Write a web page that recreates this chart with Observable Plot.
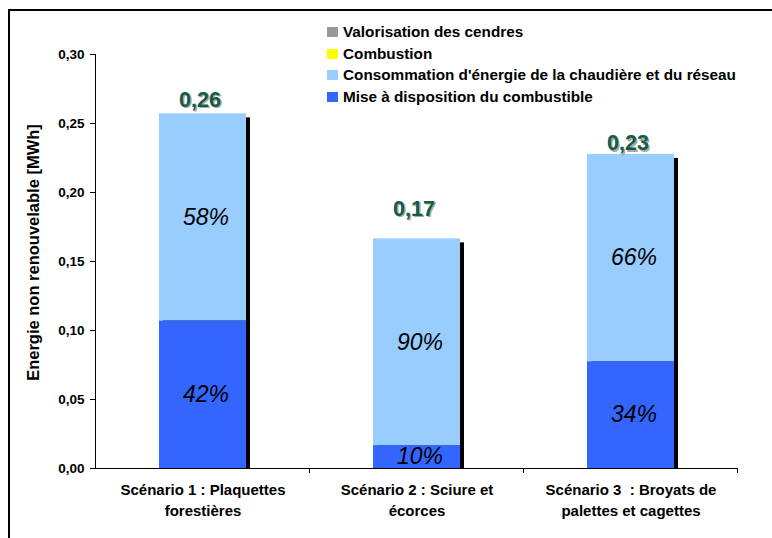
<!DOCTYPE html>
<html><head><meta charset="utf-8">
<script src="https://cdn.jsdelivr.net/npm/d3@7"></script>
<script src="https://cdn.jsdelivr.net/npm/@observablehq/plot@0.6"></script>
<style>
html,body{margin:0;padding:0;background:#fff;overflow:hidden;}
#wrap{position:relative;width:772px;height:538px;overflow:hidden;font-family:"Liberation Sans",Arial,sans-serif;}
#frame{position:absolute;left:8px;top:9px;width:900px;height:700px;border:2px solid #000;box-sizing:border-box;}
#chart{position:absolute;left:0;top:0;}
#legend{position:absolute;left:327px;top:21px;font-weight:bold;font-size:15.3px;color:#000;}
.item{display:flex;align-items:center;height:21.7px;white-space:nowrap;}
.sw{width:11px;height:10px;margin-right:5px;flex:none;}
</style></head>
<body><div id="wrap"><div id="frame"></div><div id="chart"></div><div id="legend"></div></div>
<script>
// ---- data ----
const scenarios = ["Scénario 1", "Scénario 2", "Scénario 3"];
const tickLabels = ["Scénario 1 : Plaquettes\nforestières", "Scénario 2 : Sciure et\nécorces", "Scénario 3  : Broyats de\npalettes et cagettes"];
const miseADisposition = [0.107, 0.0166, 0.0774];
const consommation = [0.150, 0.1498, 0.1502];
const combustion = [0, 0, 0];
const valorisation = [0, 0, 0];
const seriesNames = ["Mise à disposition du combustible", "Consommation d'énergie de la chaudière et du réseau", "Combustion", "Valorisation des cendres"];
const seriesColors = ["#3366FF", "#99CCFF", "#FFFF00", "#999999"];
const yTicks = [0, 0.05, 0.10, 0.15, 0.20, 0.25, 0.30];
const yTitle = "Energie non renouvelable [MWh]";

// ---- derived table ----
const seriesValues = [miseADisposition, consommation, combustion, valorisation];
const rows = [];
const totals = [];
scenarios.forEach((s, i) => {
  let acc = 0;
  const total = seriesValues.reduce((a, arr) => a + arr[i], 0);
  seriesValues.forEach((arr, k) => {
    const v = arr[i];
    rows.push({scenario: s, series: seriesNames[k], value: v, y1: acc, y2: acc + v, pct: Math.round(v / total * 100) + "%"});
    acc += v;
  });
  totals.push({scenario: s, i, total, label: total.toFixed(2).replace(".", ",")});
});
const visible = rows.filter(d => d.value > 0.001);
const labelDy = [-14, -30, -11];
const fmt = d => d.toFixed(2).replace(".", ",");
const font = "Liberation Sans, Arial, sans-serif";

const totalMarks = [];
totals.forEach((t, i) => {
  totalMarks.push(Plot.text([t], {x: "scenario", y: "total", text: "label", dx: -1.5, dy: labelDy[i] + 1.5, fill: "#a8a8a8", fontSize: 21.5, fontWeight: "bold"}));
  totalMarks.push(Plot.text([t], {x: "scenario", y: "total", text: "label", dx: -3, dy: labelDy[i], fill: "#155c44", fontSize: 21.5, fontWeight: "bold"}));
});

const plot = Plot.plot({
  width: 772, height: 538,
  marginLeft: 95, marginRight: 34, marginTop: 54, marginBottom: 70,
  style: {fontFamily: font, background: "transparent", overflow: "visible"},
  x: {domain: scenarios, paddingInner: 0.595, paddingOuter: 0.2975, label: null},
  y: {domain: [0, 0.30], label: null},
  color: {domain: seriesNames, range: seriesColors},
  marks: [
    Plot.rectY(totals, {x: "scenario", y1: 0, y2: "total", fill: "black", dx: 4, insetTop: 4}),
    Plot.rectY(visible, {x: "scenario", y1: "y1", y2: "y2", fill: "series"}),
    Plot.text(visible, {x: "scenario", y: d => (d.y1 + d.y2) / 2, text: "pct", fontStyle: "italic", fontSize: 23, dx: 3, fill: "black"}),
    ...totalMarks,
    Plot.axisY(yTicks, {tickFormat: fmt, tickSize: 5, tickPadding: 6, fontSize: 13.5, fontWeight: "bold", label: null, stroke: "black"}),
    Plot.axisX({tickSize: 0, tickPadding: 12, tickFormat: d => tickLabels[scenarios.indexOf(d)], fontSize: 15, fontWeight: "bold", lineHeight: 1.4, label: null}),
    Plot.ruleY([0], {stroke: "black"}),
    Plot.text([yTitle], {frameAnchor: "left", textAnchor: "middle", rotate: -90, dx: -62, dy: -9, fontSize: 16.5, fontWeight: "bold", fill: "black"})
  ]
});

// axis details drawn from the library's scales
const xs = plot.scale("x");
const ys = plot.scale("y");
const step = xs.step ?? (xs.bandwidth / (1 - xs.paddingInner));
const y0 = ys.apply(0);
const svg = d3.select(plot.tagName.toLowerCase() === "svg" ? plot : plot.querySelector("svg"));
const g = svg.append("g").attr("stroke", "black").attr("stroke-width", 1);
// y axis line
g.append("line").attr("x1", xs.range[0] + 0.5).attr("x2", xs.range[0] + 0.5)
  .attr("y1", ys.apply(d3.max(yTicks))).attr("y2", y0);
// band boundary ticks
g.selectAll("line.b").data(scenarios).join("line").attr("class", "b")
  .attr("x1", d => xs.apply(d) + (step + xs.bandwidth) / 2)
  .attr("x2", d => xs.apply(d) + (step + xs.bandwidth) / 2)
  .attr("y1", y0).attr("y2", y0 + 5);

document.getElementById("chart").appendChild(plot);

// legend
const legend = d3.select("#legend");
seriesNames.map((n, k) => ({n, c: seriesColors[k]})).reverse().forEach(d => {
  const it = legend.append("div").attr("class", "item");
  it.append("div").attr("class", "sw").style("background", d.c);
  it.append("span").text(d.n);
});
</script>
</body></html>
